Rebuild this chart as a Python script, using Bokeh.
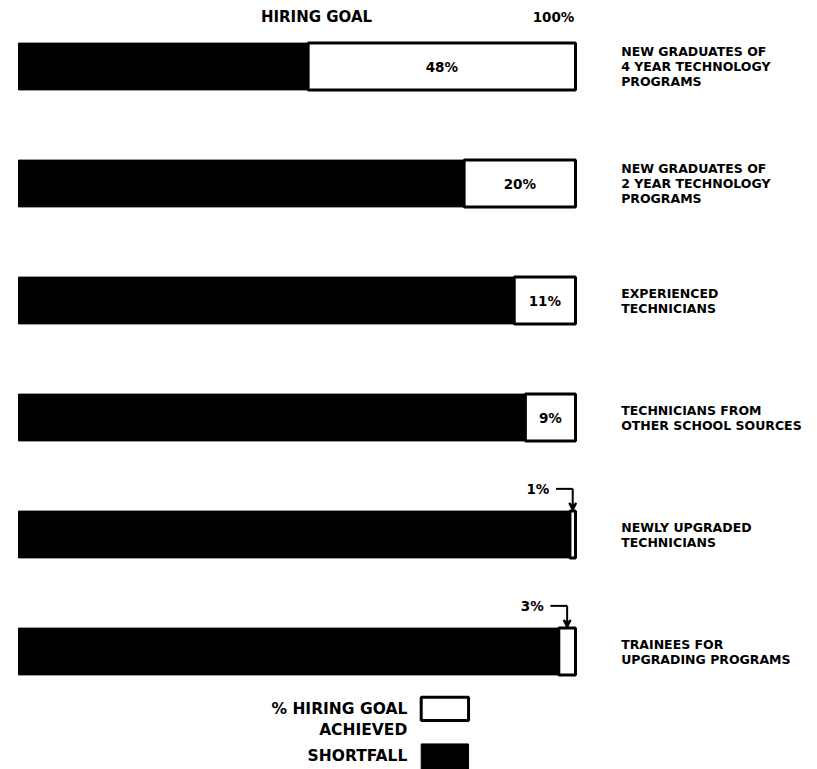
from bokeh.plotting import figure
from bokeh.models import Range1d, Arrow, VeeHead, ColumnDataSource
from bokeh.core.properties import value
from bokeh.embed import file_html
from bokeh.resources import INLINE

# ---- data ----
categories = [
    "NEW GRADUATES OF\n4 YEAR TECHNOLOGY\nPROGRAMS",
    "NEW GRADUATES OF\n2 YEAR TECHNOLOGY\nPROGRAMS",
    "EXPERIENCED\nTECHNICIANS",
    "TECHNICIANS FROM\nOTHER SCHOOL SOURCES",
    "NEWLY UPGRADED\nTECHNICIANS",
    "TRAINEES FOR\nUPGRADING PROGRAMS",
]
achieved = [48, 20, 11, 9, 1, 3]
goal = [100, 100, 100, 100, 100, 100]
header_left = "HIRING GOAL"
header_right = "100%"
legend_labels = ["% HIRING GOAL\nACHIEVED", "SHORTFALL"]

# ---- layout ----
W, H = 817, 769
PX_X = 5.57      # px per percent
X0 = 18          # pixel of 0%
ROW = 117        # px per row
Y0 = 66          # pixel of first row centre
FONT = value("DejaVu Sans")
half = 0.2

p = figure(width=W, height=H, output_backend="svg", toolbar_location=None,
           x_range=Range1d(-X0 / PX_X, (W - X0) / PX_X),
           y_range=Range1d((H - Y0) / ROW, -Y0 / ROW),
           min_border=0, outline_line_color=None)
p.axis.visible = False
p.grid.visible = False
p.background_fill_color = "white"
p.border_fill_color = "white"

n = len(categories)
rows = list(range(n))
src = ColumnDataSource(dict(
    y=rows,
    left=[0] * n,
    right=goal,
    wleft=[g - a for g, a in zip(goal, achieved)],
    top=[r - half for r in rows],
    bottom=[r + half for r in rows],
    label=categories,
))

# shortfall (black full bar)
p.quad(left="left", right="right", top="top", bottom="bottom", source=src,
       fill_color="black", line_color="black", line_width=1)
# achieved (white portion with black border)
p.quad(left="wleft", right="right", top="top", bottom="bottom", source=src,
       fill_color="white", line_color="black", line_width=3)

# category labels at right
p.text(x=108.2, y="y", text="label", source=src, text_font=FONT,
       text_font_style="bold", text_font_size="12.5px", text_align="left",
       text_baseline="middle", text_line_height=1.0, text_color="black")

# percentage labels inside white parts (large enough)
inside = [i for i, a in enumerate(achieved) if a >= 5]
p.text(x=[goal[i] - achieved[i] / 2 for i in inside], y=[rows[i] for i in inside],
       text=[f"{achieved[i]}%" for i in inside], text_font=FONT,
       text_font_style="bold", text_font_size="13.5px", text_align="center",
       text_baseline="middle", text_color="black")

# percentage labels outside with bent arrows (small values)
outside = [i for i, a in enumerate(achieved) if a < 5]
for i in outside:
    xa = goal[i] - achieved[i] / 2
    ya = rows[i] - half - 0.19
    p.segment(x0=[xa - 3], y0=[ya], x1=[xa], y1=[ya], line_color="black", line_width=2)
    p.add_layout(Arrow(end=VeeHead(size=7, line_color="black", line_width=2),
                       x_start=xa, y_start=ya, x_end=xa, y_end=rows[i] - half - 0.01,
                       line_color="black", line_width=2))
    p.text(x=[xa - 4.2], y=[ya], text=[f"{achieved[i]}%"], text_font=FONT,
           text_font_style="bold", text_font_size="13.5px", text_align="right",
           text_baseline="middle", text_color="black")

# header
p.text(x=[53.5], y=[-0.42], text=[header_left], text_font=FONT, text_font_style="bold",
       text_font_size="15px", text_align="center", text_baseline="middle")
p.text(x=[99.8], y=[-0.42], text=[header_right], text_font=FONT, text_font_style="bold",
       text_font_size="13.5px", text_align="right", text_baseline="middle")

# legend
p.quad(left=[72.3], right=[80.8], top=[5.39], bottom=[5.59],
       fill_color="white", line_color="black", line_width=3)
p.quad(left=[72.3], right=[80.8], top=[5.79], bottom=[6.02],
       fill_color="black", line_color="black", line_width=1)
p.text(x=[69.8], y=[5.58], text=[legend_labels[0]], text_font=FONT,
       text_font_style="bold", text_font_size="15.5px", text_align="right",
       text_baseline="middle", text_line_height=1.15)
p.text(x=[69.8], y=[5.89], text=[legend_labels[1]], text_font=FONT,
       text_font_style="bold", text_font_size="15.5px", text_align="right",
       text_baseline="middle")

open("out.html", "w").write(file_html(p, INLINE))
